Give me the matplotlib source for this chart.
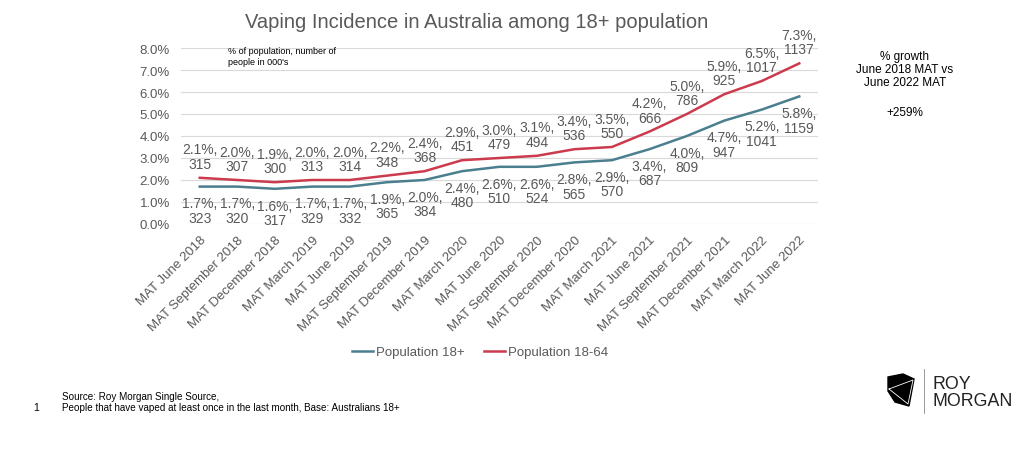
import matplotlib.pyplot as plt
from matplotlib.patches import Polygon
from matplotlib.lines import Line2D

plt.rcParams['font.family'] = ['Liberation Sans', 'DejaVu Sans']

# data
periodos = ['MAT June 2018', 'MAT September 2018', 'MAT December 2018', 'MAT March 2019',
            'MAT June 2019', 'MAT September 2019', 'MAT December 2019', 'MAT March 2020',
            'MAT June 2020', 'MAT September 2020', 'MAT December 2020', 'MAT March 2021',
            'MAT June 2021', 'MAT September 2021', 'MAT December 2021', 'MAT March 2022',
            'MAT June 2022']
pct_18 = [1.7, 1.7, 1.6, 1.7, 1.7, 1.9, 2.0, 2.4, 2.6, 2.6, 2.8, 2.9, 3.4, 4.0, 4.7, 5.2, 5.8]
num_18 = [323, 320, 317, 329, 332, 365, 384, 480, 510, 524, 565, 570, 687, 809, 947, 1041, 1159]
pct_1864 = [2.1, 2.0, 1.9, 2.0, 2.0, 2.2, 2.4, 2.9, 3.0, 3.1, 3.4, 3.5, 4.2, 5.0, 5.9, 6.5, 7.3]
num_1864 = [315, 307, 300, 313, 314, 348, 368, 451, 479, 494, 536, 550, 666, 786, 925, 1017, 1137]
yticks = [0, 1, 2, 3, 4, 5, 6, 7, 8]

azul = '#4b7f8f'
rojo = '#cc3a4e'
gris = '#595959'

fig = plt.figure(figsize=(10.32, 4.52), dpi=100)
ax = fig.add_axes([181/1032, 1-225/452, (818-181)/1032, (225-49)/452])

x = list(range(len(periodos)))
ax.plot(x, pct_18, color=azul, lw=1.8, label='Population 18+')
ax.plot(x, pct_1864, color=rojo, lw=1.8, label='Population 18-64')

for i in x:
    ax.annotate(f'{pct_1864[i]:.1f}%,\n{num_1864[i]}', (i, pct_1864[i]), xytext=(0, 5),
                textcoords='offset points', ha='center', va='bottom', fontsize=10,
                color=gris, linespacing=1.05)
    ax.annotate(f'{pct_18[i]:.1f}%,\n{num_18[i]}', (i, pct_18[i]), xytext=(0, -7),
                textcoords='offset points', ha='center', va='top', fontsize=10,
                color=gris, linespacing=1.05)

ax.set_xlim(-0.5, len(periodos) - 0.5)
ax.set_ylim(0, 8)
ax.set_yticks(yticks)
ax.set_yticklabels([f'{v:.1f}%' for v in yticks], fontsize=9.5, color=gris)
ax.set_xticks(x)
ax.set_xticklabels(periodos, rotation=45, ha='right', va='top', rotation_mode='anchor',
                   fontsize=9.5, color=gris)
ax.tick_params(axis='both', length=0)
ax.tick_params(axis='y', pad=8)
ax.tick_params(axis='x', pad=7)
ax.grid(axis='y', color='#d9d9d9', lw=0.8)
ax.set_axisbelow(True)
for s in ax.spines.values():
    s.set_visible(False)

fig.text(477/1032, 1-22/452, 'Vaping Incidence in Australia among 18+ population',
         ha='center', va='center', fontsize=14.5, color=gris)
fig.text(228/1032, 1-57/452, "% of population, number of\npeople in 000's",
         ha='left', va='center', fontsize=6.5, color='black', linespacing=1.2)
fig.text(905/1032, 1-70/452, '% growth\nJune 2018 MAT vs\nJune 2022 MAT',
         ha='center', va='center', fontsize=8.5, color='black', linespacing=1.15)
fig.text(905/1032, 1-113/452, '+259%', ha='center', va='center', fontsize=8.5, color='black')

fig.legend(loc='center', bbox_to_anchor=(480/1032, 1-353/452), ncol=2, frameon=False,
           fontsize=9.5, labelcolor=gris, handlelength=1.6, handletextpad=0.2, columnspacing=1.5)

fig.text(62/1032, 1-397/452, 'Source: Roy Morgan Single Source,', ha='left', va='center',
         fontsize=7.1, color='black')
fig.text(62/1032, 1-408/452, 'People that have vaped at least once in the last month, Base: Australians 18+',
         ha='left', va='center', fontsize=7.1, color='black')
fig.text(33/1032, 1-408/452, '1', ha='left', va='center', fontsize=7.5, color='black')

# logo
W, H = 1032, 452
pts = [(888, 378), (903, 375), (914, 380), (909, 407), (895, 403), (888, 392)]
fig.patches.append(Polygon([(px/W, 1-py/H) for px, py in pts], closed=True,
                           facecolor='black', edgecolor='black', transform=fig.transFigure))
fig.lines.append(Line2D([889/W, 913/W, 908/W, 889/W], [1-390/H, 1-381/H, 1-405/H, 1-390/H],
                        color='white', lw=0.6, transform=fig.transFigure))
fig.lines.append(Line2D([924/W, 924/W], [1-370/H, 1-414/H], color='#888888', lw=0.6,
                        transform=fig.transFigure))
fig.text(933/W, 1-393/H, 'ROY\nMORGAN', ha='left', va='center', fontsize=12.8, color='#222222',
         linespacing=0.95)

fig.savefig('out.png', dpi=100)
